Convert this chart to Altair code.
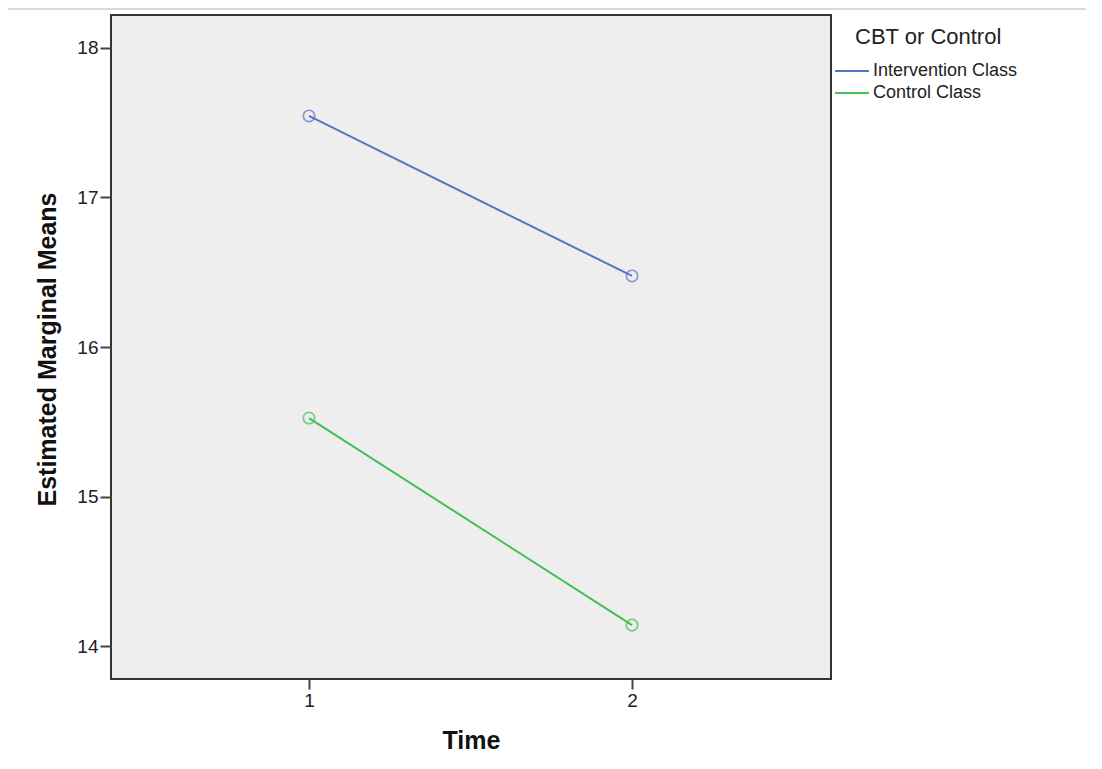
import altair as alt
import pandas as pd

groups = ["Intervention Class", "Intervention Class", "Control Class", "Control Class"]
times = [1, 2, 1, 2]
means = [17.545, 16.475, 15.525, 14.14]
group_order = ["Intervention Class", "Control Class"]
group_colors = ["#5a72c6", "#45bf55"]
y_ticks = [14, 15, 16, 17, 18]
x_ticks = [1, 2]

df = pd.DataFrame({"group": groups, "time": times, "mean": means})

FONT = "Liberation Sans"

x = alt.X("time:Q",
          scale=alt.Scale(domain=[0.387, 2.616], nice=False, zero=False),
          axis=alt.Axis(values=x_ticks, title="Time", format="d", grid=False,
                        domain=False, tickSize=10, tickWidth=2, tickColor="#444",
                        labelFontSize=19, labelColor="#222", labelPadding=2,
                        titleFontSize=25, titleFontWeight="bold", titleColor="#111",
                        titleX=360, titleY=49, titleBaseline="top",
                        labelFont=FONT, titleFont=FONT))
y = alt.Y("mean:Q",
          scale=alt.Scale(domain=[13.78, 18.22], nice=False, zero=False),
          axis=alt.Axis(values=y_ticks, title="Estimated Marginal Means", format="d",
                        grid=False, domain=False, tickSize=11, tickWidth=2,
                        tickColor="#444", labelFontSize=19, labelColor="#222",
                        labelPadding=2, titleFontSize=25, titleFontWeight="bold",
                        titleColor="#111", titleX=-64, titleY=334,
                        titleBaseline="middle", labelFont=FONT, titleFont=FONT))
color = alt.Color("group:N",
                  scale=alt.Scale(domain=group_order, range=group_colors),
                  legend=alt.Legend(title=None, orient="none", legendX=732, legendY=47,
                                    symbolType="M-4,0H4", symbolSize=72,
                                    symbolStrokeWidth=2, labelFontSize=18,
                                    labelFont=FONT, labelColor="#222",
                                    labelOffset=12, rowPadding=4, padding=0))

base = alt.Chart(df)
lines = base.mark_line(strokeWidth=2).encode(x=x, y=y, color=color, detail="group:N")
points = base.mark_point(shape="circle", filled=False, size=130, strokeWidth=1.7).encode(
    x="time:Q", y="mean:Q", color=alt.Color("group:N", legend=None))

title_df = pd.DataFrame({"t": ["CBT or Control"]})
legend_title = alt.Chart(title_df).mark_text(
    align="left", baseline="middle", fontSize=22, font=FONT, color="#222"
).encode(text="t:N", x=alt.value(744), y=alt.value(22))

top_rule = alt.Chart(title_df).mark_rule(color="#cccccc", strokeWidth=1.5).encode(
    x=alt.value(-103), x2=alt.value(980), y=alt.value(-6))

chart = alt.layer(top_rule, lines, points, legend_title).properties(
    width=720, height=664,
    autosize=alt.AutoSizeParams(type="none"),
    padding={"left": 103, "top": 7, "right": 255, "bottom": 75},
).configure_view(
    fill="#eeeeee", stroke="#333333", strokeWidth=2
)

chart.save("out.html", embed_options={"renderer": "svg", "actions": False})
